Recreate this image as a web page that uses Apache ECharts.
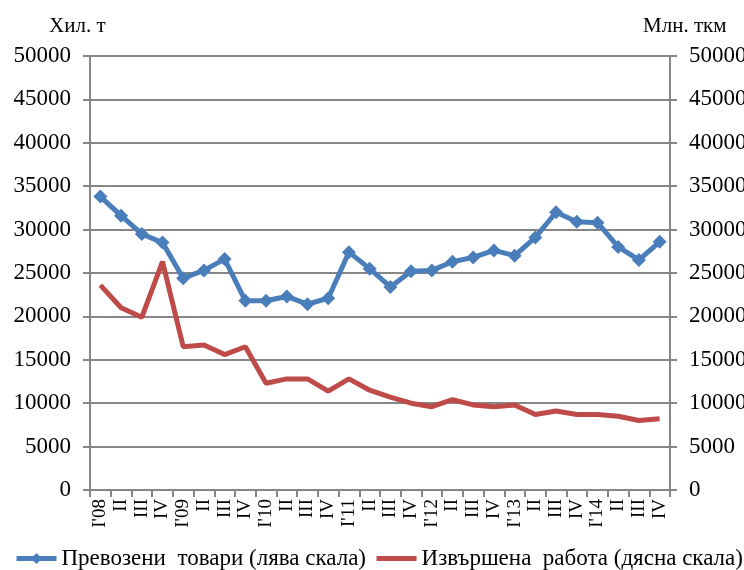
<!DOCTYPE html>
<html>
<head>
<meta charset="utf-8">
<script src="https://cdn.jsdelivr.net/npm/echarts@6/dist/echarts.min.js"></script>
<style>html,body{margin:0;padding:0;background:#fff}#c{width:744px;height:570px}</style>
</head>
<body>
<div id="c"></div>
<script>
var categories = ["I'08","II","III","IV","I'09","II","III","IV","I'10","II","III","IV","I'11","II","III","IV","I'12","II","III","IV","I'13","II","III","IV","I'14","II","III","IV"];
var goods = [33800, 31600, 29500, 28500, 24400, 25300, 26600, 21800, 21800, 22300, 21400, 22100, 27400, 25500, 23400, 25200, 25300, 26300, 26800, 27600, 27000, 29100, 32000, 30900, 30800, 28000, 26500, 28600];
var work = [23600, 21000, 19900, 26300, 16500, 16700, 15600, 16500, 12300, 12800, 12800, 11400, 12800, 11500, 10700, 10000, 9600, 10400, 9800, 9600, 9800, 8700, 9100, 8700, 8700, 8500, 8000, 8200];
var seriesNames = ["Превозени  товари (лява скала)", "Извършена  работа (дясна скала)"];
var axisNames = ["Хил. т", "Млн. ткм"];

var F = '"Liberation Serif", "Times New Roman", serif';
var chart = echarts.init(document.getElementById('c'), null, {renderer: 'canvas'});
var yAxisCommon = {
  type: 'value', min: 0, max: 50000, interval: 5000,
  axisLine: {show: true, lineStyle: {color: '#868686', width: 2}},
  axisTick: {show: true, length: 7, lineStyle: {color: '#868686', width: 2}},
  axisLabel: {fontFamily: F, fontSize: 23, color: '#000', margin: 19, formatter: function (v) { return String(v); }},
  splitLine: {show: true, lineStyle: {color: '#868686', width: 2}}
};
chart.setOption({
  animation: false,
  backgroundColor: '#fff',
  title: [
    {text: axisNames[0], left: 44, top: 11, textStyle: {fontFamily: F, fontSize: 21, fontWeight: 'normal', color: '#000'}},
    {text: axisNames[1], left: 638, top: 11, textStyle: {fontFamily: F, fontSize: 21, fontWeight: 'normal', color: '#000'}}
  ],
  grid: {left: 90, right: 74, top: 56, bottom: 80, containLabel: false, outerBoundsMode: 'none'},
  legend: {
    bottom: 0, left: 14, width: 730, padding: 0, itemWidth: 40, itemHeight: 14, itemGap: 8,
    textStyle: {fontFamily: F, fontSize: 23, color: '#000'},
    lineStyle: {width: 'inherit'},
    data: [
      {name: seriesNames[0]},
      {name: seriesNames[1], itemStyle: {opacity: 0}}
    ]
  },
  xAxis: {
    type: 'category', data: categories, boundaryGap: true,
    axisLine: {lineStyle: {color: '#868686', width: 2}},
    axisTick: {show: true, interval: 0, length: 7, lineStyle: {color: '#868686', width: 2}},
    axisLabel: {interval: 0, rotate: 90, fontFamily: F, fontSize: 19, color: '#000', margin: 9}
  },
  yAxis: [
    Object.assign({}, yAxisCommon, {position: 'left'}),
    Object.assign({}, yAxisCommon, {position: 'right', splitLine: {show: false}})
  ],
  series: [
    {name: seriesNames[0], type: 'line', yAxisIndex: 0, data: goods,
     lineStyle: {color: '#4A7EBB', width: 5}, itemStyle: {color: '#4A7EBB'},
     symbol: 'diamond', symbolSize: 14, z: 3},
    {name: seriesNames[1], type: 'line', yAxisIndex: 1, data: work,
     lineStyle: {color: '#BE4B48', width: 5}, itemStyle: {color: '#BE4B48'},
     symbol: 'none', z: 2}
  ]
});
</script>
</body>
</html>
